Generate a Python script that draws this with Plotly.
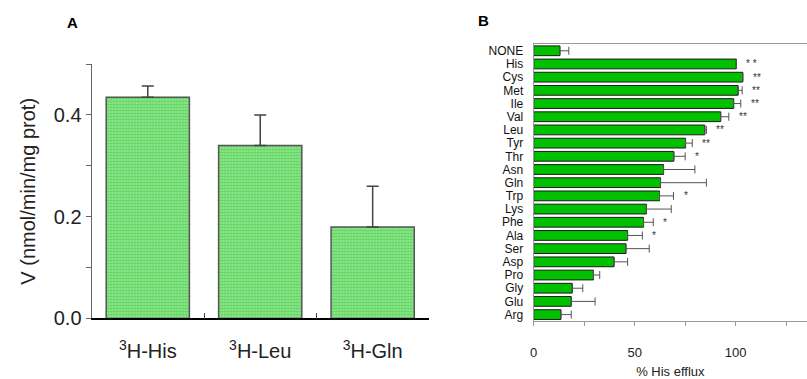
import plotly.graph_objects as go

# Panel A: transport velocity per labelled substrate
substrates = ["<sup>3</sup>H-His", "<sup>3</sup>H-Leu", "<sup>3</sup>H-Gln"]
velocity = [0.435, 0.34, 0.18]
velocity_err = [0.022, 0.06, 0.08]

# Panel B: His efflux induced by each extracellular amino acid
amino_acids = ["NONE", "His", "Cys", "Met", "Ile", "Val", "Leu", "Tyr", "Thr", "Asn",
               "Gln", "Trp", "Lys", "Phe", "Ala", "Ser", "Asp", "Pro", "Gly", "Glu", "Arg"]
efflux = [13.0, 100.3, 103.5, 101.2, 99.0, 92.6, 84.7, 75.2, 69.4, 64.3,
          62.8, 62.3, 55.8, 54.4, 46.5, 45.7, 39.8, 29.6, 19.1, 18.6, 13.5]
efflux_err = [4.4, 0.0, 0.0, 2.0, 3.5, 4.0, 0.8, 3.3, 5.6, 15.5,
              22.7, 6.9, 12.3, 4.8, 7.3, 11.5, 6.7, 3.1, 5.2, 11.8, 5.1]
significance = ["", "* *", "**", "**", "**", "**", "**", "**", "*", "",
                "", "*", "", "*", "*", "", "", "", "", "", ""]

FONT = "Liberation Sans, Arial, sans-serif"
W, H = 807, 379

fig = go.Figure()

fig.add_trace(go.Bar(
    x=substrates, y=velocity, width=0.74,
    marker=dict(
        color="#a0eaa0",
        line=dict(color="#555555", width=1.5),
        pattern=dict(shape=".", fgcolor="#14bc14", size=3, solidity=0.55, fillmode="overlay"),
    ),
    error_y=dict(type="data", array=velocity_err, arrayminus=[0] * len(velocity_err),
                 symmetric=False, color="#444444", thickness=1.5, width=6),
    xaxis="x", yaxis="y", showlegend=False,
))

fig.add_trace(go.Bar(
    y=amino_acids, x=efflux, orientation="h", width=0.74,
    marker=dict(color="#00c000", line=dict(color="#1a1a1a", width=1)),
    error_x=dict(type="data", array=efflux_err, arrayminus=[0] * len(efflux_err),
                 symmetric=False, color="#555555", thickness=1, width=4),
    xaxis="x2", yaxis="y2", showlegend=False,
))

annotations = []
for aa, v, e, s in zip(amino_acids, efflux, efflux_err, significance):
    if s:
        annotations.append(dict(
            x=v + e + 4, y=aa, xref="x2", yref="y2", text=s, showarrow=False,
            xanchor="left", yanchor="middle", font=dict(family=FONT, size=10, color="#333333"),
        ))

annotations += [
    dict(x=69 / W, y=1 - 23 / H, xref="paper", yref="paper", text="<b>A</b>", showarrow=False,
         xanchor="center", yanchor="middle", font=dict(family=FONT, size=15, color="black")),
    dict(x=482 / W, y=1 - 21 / H, xref="paper", yref="paper", text="<b>B</b>", showarrow=False,
         xanchor="center", yanchor="middle", font=dict(family=FONT, size=15, color="black")),
]

fig.update_layout(
    width=W, height=H,
    margin=dict(l=0, r=0, t=0, b=0),
    paper_bgcolor="white", plot_bgcolor="white",
    font=dict(family=FONT, color="#222222"),
    annotations=annotations,
    xaxis=dict(
        domain=[88 / W, 427 / W], anchor="y", type="category", range=[-0.5, 2.5],
        showline=True, linecolor="black", linewidth=1.5,
        ticks="inside", tickson="boundaries", ticklen=6, tickcolor="#444444",
        ticklabelstandoff=14,
        tickfont=dict(family=FONT, size=20, color="#222222"),
        showgrid=False, zeroline=False,
    ),
    yaxis=dict(
        domain=[1 - 328 / H, 1 - 66 / H], anchor="x", range=[0, 0.5],
        showline=True, linecolor="#666666", linewidth=1,
        ticks="outside", ticklen=5, tickcolor="#666666", dtick=0.2, tickformat=".1f",
        minor=dict(dtick=0.1, ticks="outside", ticklen=5, tickcolor="#666666"),
        tickfont=dict(family=FONT, size=20, color="#222222"),
        title=dict(text="V (nmol/min/mg prot)", font=dict(family=FONT, size=20, color="#222222"),
                   standoff=12),
        showgrid=False, zeroline=False,
    ),
    xaxis2=dict(
        domain=[532.3 / W, 1.0], anchor="y2", range=[0, 135.3],
        showline=True, linecolor="#999999", linewidth=1, mirror=True,
        ticks="outside", ticklen=4, tickcolor="#999999", dtick=50,
        minor=dict(dtick=25, ticks="outside", ticklen=4, tickcolor="#999999"),
        ticklabelstandoff=15,
        tickfont=dict(family=FONT, size=13, color="#222222"),
        title=dict(text="% His efflux", font=dict(family=FONT, size=13, color="#222222"), standoff=8),
        showgrid=False, zeroline=False,
    ),
    yaxis2=dict(
        domain=[1 - 330.8 / H, 1 - 45.5 / H], anchor="x2", type="category",
        range=[20.5, -0.5], tickmode="array", tickvals=amino_acids,
        showline=True, linecolor="#999999", linewidth=1,
        ticks="", ticklabelstandoff=7,
        tickfont=dict(family=FONT, size=12, color="#111111"),
        showgrid=False, zeroline=False,
    ),
)

fig.write_html("out.html")
